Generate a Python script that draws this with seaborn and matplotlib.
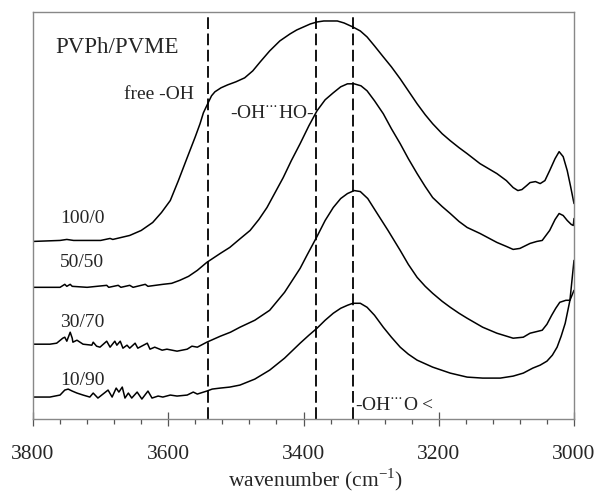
import matplotlib
matplotlib.use("Agg")
import matplotlib.pyplot as plt
from matplotlib.ticker import MultipleLocator
import seaborn as sns
import pandas as pd

# ---- data (wavenumber, absorbance in arbitrary offset units) ----
wn_100_0 = [3800, 3760, 3750, 3740, 3700, 3686, 3682, 3657, 3640, 3623, 3610, 3597, 3585,
            3572, 3560, 3553, 3548, 3541, 3536, 3531, 3522, 3512, 3500, 3487, 3475, 3464,
            3450, 3435, 3420, 3410, 3400, 3390, 3380, 3370, 3361, 3350, 3340, 3327, 3316,
            3306, 3295, 3282, 3270, 3257, 3245, 3232, 3220, 3209, 3195, 3183, 3170, 3158,
            3139, 3114, 3100, 3090, 3083, 3077, 3070, 3065, 3057, 3050, 3043, 3036, 3028,
            3022, 3016, 3010, 3005, 3000]
ab_100_0 = [1.77, 1.78, 1.79, 1.78, 1.78, 1.80, 1.79, 1.83, 1.88, 1.96, 2.06, 2.18, 2.38,
            2.61, 2.82, 2.95, 3.06, 3.16, 3.23, 3.27, 3.31, 3.34, 3.37, 3.41, 3.48, 3.57,
            3.68, 3.78, 3.85, 3.89, 3.92, 3.95, 3.97, 3.98, 3.98, 3.98, 3.96, 3.92, 3.88,
            3.82, 3.73, 3.62, 3.52, 3.40, 3.28, 3.15, 3.04, 2.95, 2.85, 2.78, 2.71, 2.65,
            2.55, 2.45, 2.38, 2.31, 2.28, 2.29, 2.33, 2.36, 2.37, 2.35, 2.38, 2.48, 2.60,
            2.67, 2.62, 2.48, 2.32, 2.15]

wn_50_50 = [3800, 3760, 3753, 3750, 3745, 3742, 3720, 3691, 3688, 3674, 3670, 3657, 3652,
            3634, 3630, 3608, 3595, 3583, 3570, 3557, 3543, 3523, 3509, 3495, 3479, 3466,
            3454, 3442, 3430, 3418, 3405, 3392, 3380, 3368, 3356, 3345, 3335, 3325, 3315,
            3306, 3295, 3282, 3270, 3257, 3245, 3232, 3220, 3209, 3195, 3183, 3170, 3158,
            3139, 3114, 3100, 3090, 3080, 3065, 3055, 3047, 3036, 3028, 3022, 3016, 3010,
            3004, 3001, 3000]
ab_50_50 = [1.31, 1.31, 1.34, 1.32, 1.34, 1.32, 1.31, 1.33, 1.31, 1.33, 1.31, 1.33, 1.31,
            1.34, 1.32, 1.34, 1.35, 1.38, 1.42, 1.48, 1.56, 1.65, 1.71, 1.79, 1.88, 1.99,
            2.11, 2.26, 2.41, 2.58, 2.75, 2.93, 3.08, 3.19, 3.26, 3.32, 3.35, 3.35, 3.33,
            3.28, 3.18, 3.05, 2.90, 2.75, 2.60, 2.45, 2.32, 2.21, 2.12, 2.05, 1.97, 1.91,
            1.85, 1.76, 1.72, 1.69, 1.70, 1.75, 1.77, 1.78, 1.88, 1.99, 2.05, 2.03, 1.98,
            1.94, 1.93, 2.00]

wn_30_70 = [3800, 3775, 3765, 3756, 3753, 3750, 3745, 3742, 3741, 3735, 3726, 3713, 3711,
            3706, 3701, 3691, 3686, 3679, 3676, 3671, 3667, 3661, 3657, 3649, 3645, 3631,
            3627, 3620, 3609, 3602, 3587, 3572, 3565, 3557, 3543, 3523, 3508, 3494, 3472,
            3450, 3428, 3405, 3395, 3380, 3368, 3356, 3345, 3335, 3325, 3316, 3305, 3291,
            3275, 3257, 3245, 3232, 3220, 3209, 3195, 3183, 3170, 3158, 3135, 3114, 3090,
            3075, 3065, 3047, 3040, 3033, 3027, 3021, 3012, 3006, 3000]
ab_30_70 = [0.74, 0.74, 0.75, 0.80, 0.81, 0.77, 0.86, 0.80, 0.76, 0.78, 0.74, 0.73, 0.76,
            0.72, 0.71, 0.77, 0.71, 0.77, 0.73, 0.77, 0.70, 0.73, 0.70, 0.75, 0.70, 0.75,
            0.69, 0.71, 0.68, 0.69, 0.67, 0.69, 0.72, 0.71, 0.76, 0.82, 0.86, 0.91, 0.98,
            1.08, 1.26, 1.50, 1.63, 1.82, 1.98, 2.11, 2.20, 2.25, 2.28, 2.27, 2.20, 2.05,
            1.88, 1.68, 1.54, 1.41, 1.32, 1.25, 1.17, 1.11, 1.05, 1.00, 0.91, 0.85, 0.80,
            0.81, 0.85, 0.88, 0.94, 1.03, 1.10, 1.16, 1.18, 1.18, 1.28]

wn_10_90 = [3800, 3775, 3760, 3753, 3748, 3742, 3735, 3726, 3716, 3711, 3704, 3689, 3683,
            3677, 3673, 3668, 3664, 3659, 3654, 3646, 3639, 3630, 3624, 3615, 3608, 3597,
            3587, 3572, 3563, 3557, 3543, 3535, 3523, 3509, 3494, 3472, 3450, 3428, 3405,
            3392, 3380, 3368, 3356, 3345, 3335, 3327, 3316, 3306, 3295, 3282, 3270, 3257,
            3245, 3232, 3209, 3183, 3158, 3135, 3109, 3090, 3075, 3061, 3050, 3040, 3032,
            3025, 3019, 3013, 3006, 3000]
ab_10_90 = [0.21, 0.21, 0.23, 0.28, 0.29, 0.27, 0.25, 0.23, 0.21, 0.25, 0.20, 0.28, 0.21,
            0.30, 0.26, 0.31, 0.20, 0.25, 0.20, 0.26, 0.19, 0.27, 0.20, 0.22, 0.21, 0.23,
            0.22, 0.23, 0.26, 0.24, 0.27, 0.29, 0.30, 0.31, 0.33, 0.39, 0.48, 0.60, 0.75,
            0.83, 0.90, 0.98, 1.05, 1.10, 1.13, 1.15, 1.15, 1.11, 1.03, 0.91, 0.81, 0.71,
            0.64, 0.58, 0.51, 0.45, 0.41, 0.40, 0.40, 0.42, 0.45, 0.50, 0.53, 0.57, 0.63,
            0.71, 0.82, 0.95, 1.18, 1.58]

series_labels = ["100/0", "50/50", "30/70", "10/90"]
label_y = [1.95, 1.51, 0.91, 0.33]
band_positions = [3541, 3381, 3327]

# ---- style ----
sns.set_style("white")
plt.rcParams["font.family"] = ["Liberation Serif", "DejaVu Serif"]
plt.rcParams["mathtext.fontset"] = "custom"
plt.rcParams["mathtext.rm"] = "Liberation Serif"

fig = plt.figure(figsize=(5.99, 4.92), dpi=100)
ax = fig.add_axes([33 / 599, 1 - 419 / 492, 541 / 599, 407 / 492])

curves = [(wn_100_0, ab_100_0), (wn_50_50, ab_50_50), (wn_30_70, ab_30_70), (wn_10_90, ab_10_90)]
for (wn, ab), lab in zip(curves, series_labels):
    df = pd.DataFrame({"wn": wn, "ab": ab})
    sns.lineplot(data=df, x="wn", y="ab", sort=False, estimator=None, color="black",
                 lw=1.1, ax=ax)

for pos in band_positions:
    ax.axvline(pos, color="black", lw=1.3, dashes=(6.5, 2.5))

ax.set_xlim(3800, 3000)
ax.set_ylim(-0.01, 4.07)
ax.set_xlabel("")
ax.set_ylabel("")
ax.set_yticks([])
ax.xaxis.set_major_locator(MultipleLocator(200))
ax.xaxis.set_minor_locator(MultipleLocator(40))
ax.tick_params(axis="x", which="major", direction="inout", length=10, width=0.9,
               color="#555555", labelsize=15.5, pad=14, bottom=True)
ax.tick_params(axis="x", which="minor", direction="out", length=3.5, width=0.9,
               color="#555555", bottom=True)
for s in ax.spines.values():
    s.set_color("#888888")
    s.set_linewidth(1.0)

# ---- texts ----
dots = "$^{\\cdots}$"
ax.text(3767, 3.66, "PVPh/PVME", fontsize=16.5, ha="left", va="baseline")
ax.text(3665, 3.20, "free -OH", fontsize=14, ha="left", va="baseline")
ax.text(3509, 3.01, "-OH" + dots + "HO-", fontsize=14, ha="left", va="baseline")
ax.text(3324, 0.08, "-OH" + dots + "O <", fontsize=14, ha="left", va="baseline")
for lab, y in zip(series_labels, label_y):
    ax.text(3760, y, lab, fontsize=14, ha="left", va="baseline")

fig.text(315 / 599, 1 - 486 / 492, "wavenumber (cm$^{\\mathregular{-1}}$)", fontsize=15.5,
         ha="center", va="baseline")

fig.savefig("out.png", dpi=100)
